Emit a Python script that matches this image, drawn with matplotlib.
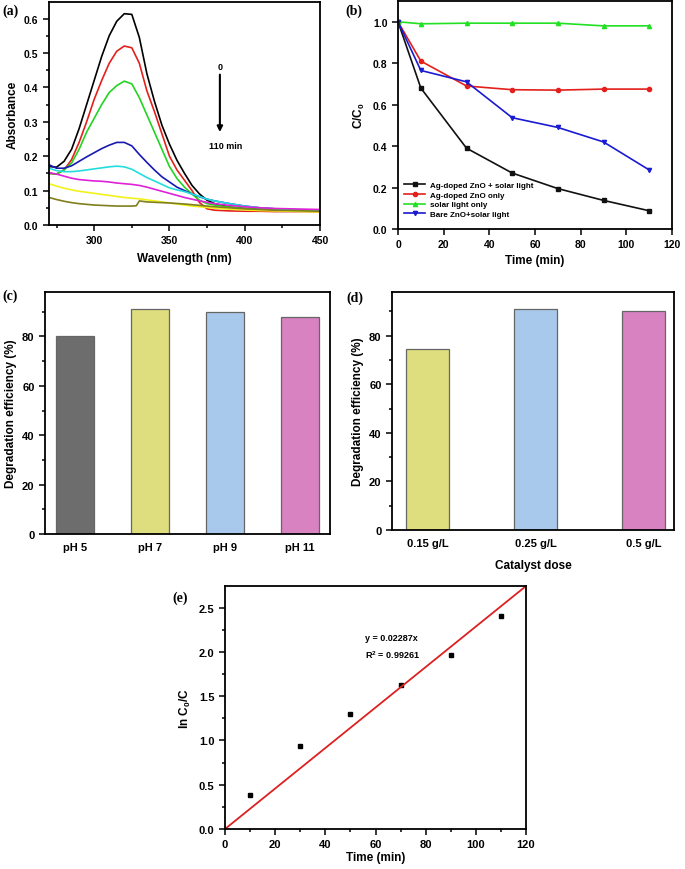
import matplotlib
matplotlib.use('Agg')
import matplotlib.pyplot as plt
from matplotlib.ticker import MultipleLocator

plt.rcParams['font.family'] = ['Liberation Sans', 'DejaVu Sans']
plt.rcParams['font.weight'] = 'bold'
plt.rcParams['axes.labelweight'] = 'bold'

# (a) UV-vis spectra
wavelength = [270, 275, 280, 285, 290, 295, 300, 305, 310, 315, 320, 325, 330, 335, 340,
              345, 350, 355, 360, 365, 370, 375, 380, 390, 400, 410, 420, 430, 440, 450]
abs_black = [0.170, 0.168, 0.185, 0.220, 0.280, 0.350, 0.420, 0.490, 0.550, 0.592, 0.614, 0.612,
             0.545, 0.440, 0.360, 0.290, 0.235, 0.188, 0.150, 0.115, 0.090, 0.072, 0.062, 0.052,
             0.048, 0.045, 0.043, 0.042, 0.041, 0.040]
abs_red = [0.150, 0.148, 0.160, 0.190, 0.240, 0.300, 0.365, 0.420, 0.470, 0.505, 0.520, 0.515,
           0.470, 0.390, 0.330, 0.265, 0.200, 0.160, 0.130, 0.100, 0.065, 0.047, 0.043, 0.041,
           0.040, 0.040, 0.039, 0.039, 0.039, 0.038]
abs_green = [0.150, 0.148, 0.160, 0.180, 0.220, 0.270, 0.310, 0.350, 0.385, 0.405, 0.418, 0.410,
             0.370, 0.320, 0.270, 0.220, 0.170, 0.135, 0.110, 0.090, 0.072, 0.062, 0.058, 0.052,
             0.048, 0.045, 0.043, 0.042, 0.041, 0.040]
abs_blue = [0.175, 0.165, 0.165, 0.172, 0.185, 0.198, 0.210, 0.222, 0.232, 0.240, 0.240, 0.230,
            0.205, 0.182, 0.160, 0.140, 0.125, 0.110, 0.100, 0.090, 0.082, 0.075, 0.070, 0.062,
            0.055, 0.050, 0.047, 0.045, 0.043, 0.041]
abs_cyan = [0.165, 0.158, 0.155, 0.155, 0.157, 0.160, 0.163, 0.166, 0.169, 0.171, 0.169, 0.162,
            0.150, 0.138, 0.128, 0.118, 0.108, 0.102, 0.097, 0.090, 0.083, 0.075, 0.070, 0.062,
            0.055, 0.050, 0.047, 0.045, 0.043, 0.042]
abs_magenta = [0.152, 0.148, 0.142, 0.136, 0.132, 0.130, 0.128, 0.127, 0.125, 0.122, 0.120, 0.118,
               0.115, 0.110, 0.104, 0.098, 0.092, 0.086, 0.080, 0.075, 0.070, 0.066, 0.062, 0.057,
               0.053, 0.050, 0.048, 0.047, 0.046, 0.045]
abs_yellow = [0.120, 0.113, 0.107, 0.102, 0.098, 0.095, 0.092, 0.089, 0.086, 0.083, 0.080, 0.078,
              0.076, 0.073, 0.070, 0.067, 0.064, 0.061, 0.058, 0.055, 0.053, 0.051, 0.049, 0.046,
              0.044, 0.042, 0.041, 0.040, 0.039, 0.038]
wavelength_olive = [270, 275, 280, 285, 290, 295, 300, 305, 310, 315, 320, 325, 328, 330, 335,
                    340, 350, 360, 370, 380, 390, 400, 420, 450]
abs_olive = [0.080, 0.074, 0.069, 0.065, 0.062, 0.060, 0.058, 0.057, 0.056, 0.055, 0.055, 0.055,
             0.056, 0.070, 0.067, 0.066, 0.064, 0.061, 0.057, 0.053, 0.050, 0.047, 0.043, 0.040]

# (b) C/C0 vs time
time_b = [0, 10, 30, 50, 70, 90, 110]
c_agzno_light = [1.0, 0.68, 0.39, 0.27, 0.195, 0.138, 0.088]
c_agzno_only = [1.0, 0.81, 0.69, 0.672, 0.670, 0.675, 0.675]
c_light_only = [1.0, 0.99, 0.993, 0.993, 0.993, 0.980, 0.980]
c_bare_zno = [1.0, 0.765, 0.71, 0.537, 0.49, 0.42, 0.285]

# (c) pH effect
ph_labels = ['pH 5', 'pH 7', 'pH 9', 'pH 11']
ph_eff = [80, 91, 90, 88]
ph_colors = ['#6d6d6d', '#dede7e', '#a9c9ec', '#d982c1']

# (d) catalyst dose effect
dose_labels = ['0.15 g/L', '0.25 g/L', '0.5 g/L']
dose_eff = [74.5, 91, 90]
dose_colors = ['#dede7e', '#a9c9ec', '#d982c1']

# (e) kinetics
time_e = [10, 30, 50, 70, 90, 110]
ln_c0_c = [0.38, 0.94, 1.30, 1.63, 1.97, 2.41]
fit_slope = 0.02287
fit_r2 = 0.99261
fit_x = [0, 120]

W, H = 685, 870
fig = plt.figure(figsize=(W / 100, H / 100), dpi=100)


def add_axes(left, top, right, bottom):
    """Axes from pixel box of the reference."""
    return fig.add_axes([left / W, 1 - bottom / H, (right - left) / W, (bottom - top) / H])


def style(ax, tick_size=7.5):
    for sp in ax.spines.values():
        sp.set_linewidth(1.3)
    ax.tick_params(which='both', direction='out', top=False, right=False, labelsize=tick_size, width=1.1)
    ax.tick_params(which='major', length=4)
    ax.tick_params(which='minor', length=2.5)


def panel_label(x, y, text):
    fig.text(x / W, 1 - y / H, text, family='Liberation Serif', weight='bold', fontsize=10,
             ha='left', va='center')


# ---- (a)
ax = add_axes(49, 3, 320, 226)
spectra = [(abs_black, 'black'), (abs_red, '#e3201b'), (abs_green, '#22d422'), (abs_blue, '#1818b4'),
           (abs_cyan, '#22dede'), (abs_magenta, '#e021d8'), (abs_yellow, '#f2f21a')]
for vals, col in spectra:
    ax.plot(wavelength, vals, color=col, lw=1.2)
ax.plot(wavelength_olive, abs_olive, color='#7f7f1e', lw=1.2)
ax.set_xlim(270, 450)
ax.set_ylim(0, 0.648)
ax.xaxis.set_major_locator(MultipleLocator(50))
ax.xaxis.set_minor_locator(MultipleLocator(25))
ax.yaxis.set_major_locator(MultipleLocator(0.1))
ax.yaxis.set_minor_locator(MultipleLocator(0.05))
ax.set_xticks([300, 350, 400, 450])
style(ax)
ax.set_xlabel('Wavelength (nm)', fontsize=8.5, labelpad=5)
ax.set_ylabel('Absorbance', fontsize=8.5, labelpad=4)
ax.annotate('', xy=(383.5, 0.262), xytext=(383.5, 0.445),
            arrowprops=dict(arrowstyle='-|>', color='black', lw=1.5, mutation_scale=8))
ax.text(383.5, 0.462, '0', ha='center', va='center', fontsize=6.5)
ax.text(387, 0.23, '110 min', ha='center', va='center', fontsize=6.5)
panel_label(2, 11, '(a)')

# ---- (b)
ax = add_axes(398, 2, 672, 230)
ax.plot(time_b, c_agzno_light, color='#111111', marker='s', ms=3, lw=1.2, label='Ag-doped ZnO + solar light')
ax.plot(time_b, c_agzno_only, color='#e3201b', marker='o', ms=3, lw=1.2, label='Ag-doped ZnO only')
ax.plot(time_b, c_light_only, color='#22e022', marker='^', ms=3, lw=1.2, label='solar light only')
ax.plot(time_b, c_bare_zno, color='#1a1ad2', marker='v', ms=3, lw=1.2, label='Bare ZnO+solar light')
ax.set_xlim(0, 120)
ax.set_ylim(0, 1.1)
ax.xaxis.set_major_locator(MultipleLocator(20))
ax.yaxis.set_major_locator(MultipleLocator(0.2))
style(ax)
ax.set_xlabel('Time (min)', fontsize=8.5, labelpad=3)
ax.set_ylabel('C/C$_\\mathregular{0}$', fontsize=8.5, labelpad=4)
ax.legend(loc='lower left', bbox_to_anchor=(0.0, 0.02), frameon=False, fontsize=5.8,
          handlelength=2.6, handletextpad=0.6, labelspacing=0.25, borderaxespad=0.4)
panel_label(345, 11, '(b)')

# ---- (c)
ax = add_axes(45, 293, 330, 535)
ax.bar(range(len(ph_labels)), ph_eff, width=0.5, color=ph_colors, edgecolor='#666666', lw=0.9)
ax.set_xlim(-0.4, 3.4)
ax.set_ylim(0, 98)
ax.set_xticks(range(len(ph_labels)))
ax.set_xticklabels(ph_labels)
ax.yaxis.set_major_locator(MultipleLocator(20))
ax.yaxis.set_minor_locator(MultipleLocator(10))
style(ax, 8)
ax.tick_params(axis='x', length=0, pad=6)
ax.set_ylabel('Degradation efficiency (%)', fontsize=8.5, labelpad=4)
panel_label(2, 296, '(c)')

# ---- (d)
ax = add_axes(392, 293, 674, 531)
ax.bar(range(len(dose_labels)), dose_eff, width=0.4, color=dose_colors, edgecolor='#666666', lw=0.9)
ax.set_xlim(-0.33, 2.28)
ax.set_ylim(0, 98)
ax.set_xticks(range(len(dose_labels)))
ax.set_xticklabels(dose_labels)
ax.yaxis.set_major_locator(MultipleLocator(20))
ax.yaxis.set_minor_locator(MultipleLocator(10))
style(ax, 8)
ax.tick_params(axis='x', length=0, pad=6)
ax.set_xlabel('Catalyst dose', fontsize=8.5, labelpad=8)
ax.set_ylabel('Degradation efficiency (%)', fontsize=8.5, labelpad=4)
panel_label(346, 298, '(d)')

# ---- (e)
ax = add_axes(225, 587, 526, 830)
ax.plot(time_e, ln_c0_c, 's', color='black', ms=3.2)
ax.plot(fit_x, [fit_slope * x for x in fit_x], color='#dd2020', lw=1.3)
ax.set_xlim(0, 120)
ax.set_ylim(0, 2.745)
ax.xaxis.set_major_locator(MultipleLocator(20))
ax.xaxis.set_minor_locator(MultipleLocator(10))
ax.yaxis.set_major_locator(MultipleLocator(0.5))
ax.yaxis.set_minor_locator(MultipleLocator(0.25))
style(ax, 8)
ax.set_xlabel('Time (min)', fontsize=8.5, labelpad=1)
ax.set_ylabel('ln C$_\\mathregular{0}$/C', fontsize=8.5, labelpad=4)
ax.text(55.8, 2.16, f'y = {fit_slope}x', fontsize=6.5, va='center')
ax.text(55.8, 1.98, f'R$^\\mathregular{{2}}$ = {fit_r2}', fontsize=6.5, va='center')
panel_label(172, 598, '(e)')

fig.savefig('out.png', dpi=100)
